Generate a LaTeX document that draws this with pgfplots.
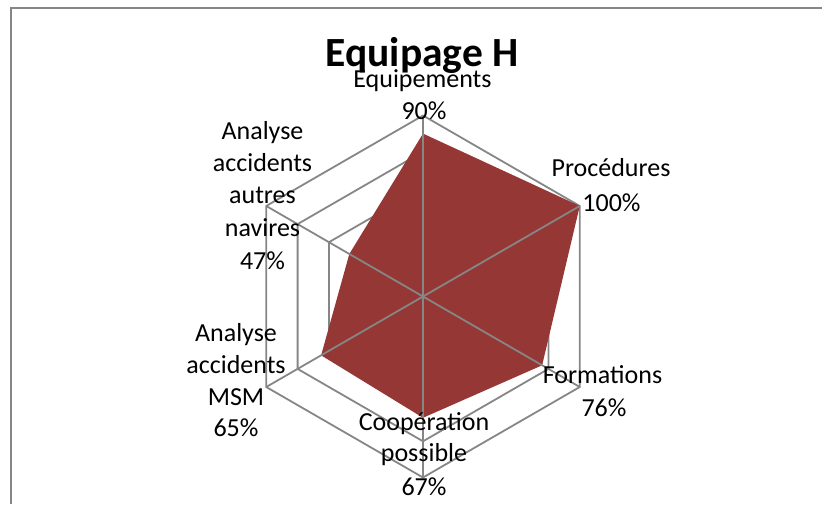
\documentclass[border=0pt]{standalone}
\usepackage{fontspec}
\setmainfont{Carlito}
\usepackage{pgfplots}
\pgfplotsset{compat=1.18}
\definecolor{fillred}{RGB}{149,55,53}
\definecolor{gridgray}{RGB}{134,134,134}
\begin{document}
\begin{tikzpicture}
\useasboundingbox (0,0) rectangle (822pt,504pt);
\begin{axis}[
    at={(0,0)}, anchor=south west,
    scale only axis, width=822pt, height=504pt,
    hide axis, clip=false,
    xmin=-2.33702, xmax=2.20442,
    ymin=-1.14641, ymax=1.63812,
    data cs=polar,
]
% rings (behind the fill)
\addplot[gridgray, line width=1.8pt, mark=none] coordinates {(90,0.2) (30,0.2) (-30,0.2) (-90,0.2) (-150,0.2) (150,0.2) (90,0.2)};
\addplot[gridgray, line width=1.8pt, mark=none] coordinates {(90,0.4) (30,0.4) (-30,0.4) (-90,0.4) (-150,0.4) (150,0.4) (90,0.4)};
\addplot[gridgray, line width=1.8pt, mark=none] coordinates {(90,0.6) (30,0.6) (-30,0.6) (-90,0.6) (-150,0.6) (150,0.6) (90,0.6)};
\addplot[gridgray, line width=1.8pt, mark=none] coordinates {(90,0.8) (30,0.8) (-30,0.8) (-90,0.8) (-150,0.8) (150,0.8) (90,0.8)};
\addplot[gridgray, line width=1.8pt, mark=none] coordinates {(90,1) (30,1) (-30,1) (-90,1) (-150,1) (150,1) (90,1)};
% series
\addplot[fill=fillred, draw=none, mark=none] coordinates {
    (90,0.90) (30,1.00) (-30,0.76) (-90,0.67) (-150,0.65) (150,0.47) (90,0.90)
};
% spokes
\addplot[gridgray, line width=1.8pt, mark=none] coordinates {(90,1) (-90,1)};
\addplot[gridgray, line width=1.8pt, mark=none] coordinates {(30,1) (-150,1)};
\addplot[gridgray, line width=1.8pt, mark=none] coordinates {(-30,1) (150,1)};
\end{axis}
\begin{scope}[shift={(0,504pt)}, x=1pt, y=-1pt,
    every node/.style={inner sep=0pt, anchor=base, font=\fontsize{26}{32}\selectfont}]
\draw[gridgray, line width=2pt] (11,504) -- (11,8) -- (822,8);
\node[font=\fontsize{41.5}{49}\selectfont\bfseries] at (422,67) {Equipage H};
\node at (422.5,88) {Equipements};
\node at (424,120) {90\%};
\node at (611,176.7) {Procédures};
\node at (611.5,211.7) {100\%};
\node at (602.5,383) {Formations};
\node at (604,416) {76\%};
\node at (424,430) {Coopération};
\node at (424,461.7) {possible};
\node at (424,495) {67\%};
\node at (236,341.7) {Analyse};
\node at (236,373) {accidents};
\node at (236,405) {MSM};
\node at (236,436.7) {65\%};
\node at (262.5,140) {Analyse};
\node at (262.5,171.7) {accidents};
\node at (262.5,203.5) {autres};
\node at (262.5,236.7) {navires};
\node at (262.5,270) {47\%};
\end{scope}
\end{tikzpicture}
\end{document}
